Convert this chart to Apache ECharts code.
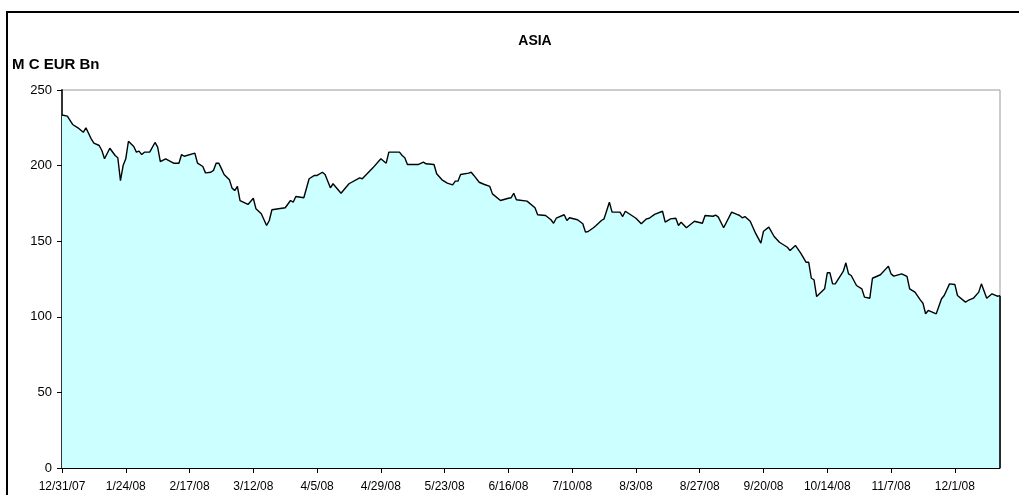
<!DOCTYPE html>
<html>
<head>
<meta charset="utf-8">
<title>ASIA</title>
<script src="https://cdn.jsdelivr.net/npm/echarts@6/dist/echarts.min.js"></script>
<style>
  html, body { margin: 0; padding: 0; background: #fff; }
  #chart { width: 1019px; height: 495px; }
</style>
</head>
<body>
<div id="chart"></div>
<script>
// Market capitalisation, Asia, in EUR bn
const dates = [
  '2007-12-31','2008-01-02','2008-01-04','2008-01-06','2008-01-08','2008-01-09','2008-01-11','2008-01-12',
  '2008-01-14','2008-01-15','2008-01-16','2008-01-18','2008-01-20','2008-01-21','2008-01-22','2008-01-23',
  '2008-01-24','2008-01-25','2008-01-27','2008-01-28','2008-01-29','2008-01-30','2008-01-31','2008-02-02',
  '2008-02-04','2008-02-05','2008-02-06','2008-02-08','2008-02-11','2008-02-13','2008-02-14','2008-02-15',
  '2008-02-19','2008-02-20','2008-02-22','2008-02-23','2008-02-25','2008-02-26','2008-02-27','2008-02-28',
  '2008-02-29','2008-03-01','2008-03-03','2008-03-04','2008-03-05','2008-03-06','2008-03-07','2008-03-10',
  '2008-03-12','2008-03-13','2008-03-15','2008-03-17','2008-03-18','2008-03-19','2008-03-24','2008-03-26',
  '2008-03-27','2008-03-28','2008-03-31','2008-04-02','2008-04-04','2008-04-05','2008-04-07','2008-04-08',
  '2008-04-10','2008-04-11','2008-04-14','2008-04-17','2008-04-21','2008-04-22','2008-04-24','2008-04-26',
  '2008-04-29','2008-05-01','2008-05-02','2008-05-06','2008-05-07','2008-05-08','2008-05-09','2008-05-13',
  '2008-05-15','2008-05-16','2008-05-19','2008-05-20','2008-05-22','2008-05-24','2008-05-26','2008-05-27',
  '2008-05-28','2008-05-29','2008-06-01','2008-06-02','2008-06-03','2008-06-05','2008-06-07','2008-06-09',
  '2008-06-10','2008-06-13','2008-06-16','2008-06-17','2008-06-18','2008-06-19','2008-06-23','2008-06-26',
  '2008-06-27','2008-06-30','2008-07-02','2008-07-03','2008-07-04','2008-07-07','2008-07-08','2008-07-09',
  '2008-07-12','2008-07-14','2008-07-15','2008-07-16','2008-07-18','2008-07-19','2008-07-21','2008-07-22',
  '2008-07-24','2008-07-25','2008-07-28','2008-07-29','2008-07-30','2008-08-03','2008-08-05','2008-08-07',
  '2008-08-08','2008-08-10','2008-08-13','2008-08-14','2008-08-16','2008-08-18','2008-08-19','2008-08-20',
  '2008-08-22','2008-08-25','2008-08-28','2008-08-29','2008-09-01','2008-09-02','2008-09-03','2008-09-05',
  '2008-09-08','2008-09-10','2008-09-11','2008-09-12','2008-09-13','2008-09-15','2008-09-17','2008-09-19',
  '2008-09-20','2008-09-22','2008-09-24','2008-09-26','2008-09-29','2008-09-30','2008-10-02','2008-10-04',
  '2008-10-06','2008-10-07','2008-10-08','2008-10-09','2008-10-10','2008-10-13','2008-10-14','2008-10-15',
  '2008-10-16','2008-10-17','2008-10-20','2008-10-21','2008-10-22','2008-10-23','2008-10-25','2008-10-27',
  '2008-10-28','2008-10-30','2008-10-31','2008-11-03','2008-11-06','2008-11-07','2008-11-08','2008-11-11',
  '2008-11-13','2008-11-14','2008-11-16','2008-11-18','2008-11-19','2008-11-20','2008-11-21','2008-11-24',
  '2008-11-26','2008-11-27','2008-11-29','2008-12-01','2008-12-02','2008-12-05','2008-12-06','2008-12-08',
  '2008-12-10','2008-12-11','2008-12-13','2008-12-15','2008-12-17','2008-12-18'
];

const marketCap = [
  233.5,232.7,227.2,225,222,225,217.7,214.8,
  213.3,210,204.5,211.5,206.7,205.2,190.1,200,
  204.5,216.1,212.6,208.9,209.6,207.3,208.9,208.9,
  215.3,212.2,202.7,204.5,201.6,201.6,207.3,206.2,
  208.2,201.6,199.4,195.2,195.6,196.8,201.6,201.6,
  198,194.1,190.6,185.1,183.5,186.2,176.9,174.3,
  178.4,171.4,168.1,160.4,163.7,170.8,172.1,176.9,
  175.8,179.6,178.7,191.3,193.5,193.5,195.6,194.1,
  185.3,188,181.7,188,191.9,191.3,195,198.5,
  204.5,201.6,208.9,208.9,206.7,205.2,200.7,200.7,
  202.3,201.2,200.7,194.6,190.6,188.4,187.3,189.7,
  189.7,194.1,195,195.6,193.5,189,187.5,186.2,
  181.3,176.9,178.4,178.7,181.7,177.4,176.5,172.1,
  167.5,167,164.2,161.9,165.2,167.5,163.7,165.5,
  164.2,161.5,156,156.4,158.9,160.4,163.7,164.8,
  175.8,169.2,169.2,166.3,169.8,165.2,161.5,164.8,
  165.2,167.7,169.8,162.6,164.8,165.2,160.4,162.6,
  158.9,163.2,161.9,167,166.5,167.3,165.9,158.9,
  169.2,167.7,167,165.5,166.3,163.2,155.3,148.7,
  156.6,159.3,153.1,149.3,146,143.8,147.2,142.1,
  136.1,136.1,125.5,124.5,113.4,118.5,129.1,129.1,
  121.8,121.8,130,135.7,128.4,127.3,120.7,118.5,
  113,112.3,125.5,127.8,133.5,128.4,126.9,128.4,
  126.7,118.5,116.3,111.2,109,102,104.2,102,
  111.9,114.1,121.8,121.4,114.1,109.7,110.8,112.3,
  116.3,121.8,112.3,115.2,113.6,114
];

// Axis tick dates (every 24 days) and value-axis ticks
const tickDates = [
  '2007-12-31','2008-01-24','2008-02-17','2008-03-12','2008-04-05','2008-04-29','2008-05-23',
  '2008-06-16','2008-07-10','2008-08-03','2008-08-27','2008-09-20','2008-10-14','2008-11-07','2008-12-01'
];
const yTicks = [0, 50, 100, 150, 200, 250];

const DAY = 86400000;
const origin = Date.parse(dates[0]);
const lastDate = dates[dates.length - 1];
const toDay = s => Math.round((Date.parse(s) - origin) / DAY);
const dayLabel = d => {
  const t = new Date(origin + d * DAY);
  return (t.getUTCMonth() + 1) + '/' + t.getUTCDate() + '/' + String(t.getUTCFullYear()).slice(2);
};

const seriesData = dates.map((s, i) => [toDay(s), marketCap[i]]);
const tickDays = tickDates.map(toDay);
const lastDay = toDay(lastDate);
const lastValue = marketCap[marketCap.length - 1];

const FONT = '"Liberation Sans", Arial, sans-serif';

const chart = echarts.init(document.getElementById('chart'), null, { renderer: 'canvas' });
chart.setOption({
  animation: false,
  backgroundColor: '#ffffff',
  textStyle: { fontFamily: FONT },
  graphic: [
    { type: 'rect', shape: { x: 7, y: 12, width: 1100, height: 600 },
      style: { fill: 'none', stroke: '#000', lineWidth: 2 }, silent: true },
    { type: 'text', left: 12, top: 57,
      style: { text: 'M C EUR Bn', font: 'bold 15px ' + FONT, fill: '#000' } }
  ],
  title: {
    text: 'ASIA',
    left: 530, top: 29, textAlign: 'center',
    textStyle: { fontFamily: FONT, fontSize: 14, fontWeight: 'bold', color: '#000' }
  },
  grid: {
    left: 62, right: 19, top: 90, bottom: 27,
    show: true, borderColor: '#999', borderWidth: 1, backgroundColor: 'transparent'
  },
  xAxis: {
    type: 'value',
    min: 0, max: lastDay, interval: 24,
    axisLine: { show: true, lineStyle: { color: '#000', width: 1 } },
    axisTick: { show: true, length: 5, inside: false, lineStyle: { color: '#000' }, customValues: tickDays },
    axisLabel: {
      customValues: tickDays,
      formatter: v => dayLabel(v),
      fontFamily: FONT, fontSize: 12, color: '#000', margin: 13, letterSpacing: -0.6
    },
    splitLine: { show: false }
  },
  yAxis: {
    type: 'value',
    min: yTicks[0], max: yTicks[yTicks.length - 1], interval: 50,
    axisLine: { show: true, lineStyle: { color: '#333', width: 2 } },
    axisTick: { show: true, length: 5, lineStyle: { color: '#000' } },
    axisLabel: { fontFamily: FONT, fontSize: 13, color: '#000', margin: 10 },
    splitLine: { show: false }
  },
  series: [{
    type: 'line',
    name: 'ASIA',
    data: seriesData,
    showSymbol: false,
    symbol: 'none',
    lineStyle: { color: '#000', width: 1.4 },
    areaStyle: { color: '#CCFFFF', opacity: 1 },
    markLine: {
      silent: true,
      symbol: 'none',
      label: { show: false },
      lineStyle: { color: '#000', width: 1.6, type: 'solid' },
      data: [[{ coord: [lastDay, 0] }, { coord: [lastDay, lastValue] }]]
    }
  }]
});
</script>
</body>
</html>
